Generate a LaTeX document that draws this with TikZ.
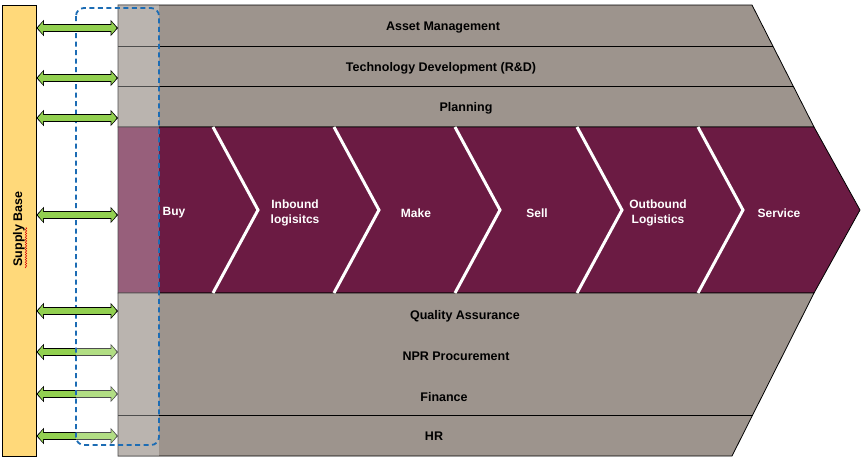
\documentclass[tikz,border=0pt]{standalone}
\usepackage{fontspec}
\setmainfont{Liberation Sans}
\usetikzlibrary{arrows.meta,positioning,decorations.pathmorphing}

\definecolor{bandgray}{RGB}{157,148,141}
\definecolor{wine}{RGB}{107,27,67}
\definecolor{supplyyellow}{RGB}{255,217,122}
\definecolor{linkgreen}{RGB}{146,208,80}
\definecolor{frameblue}{RGB}{28,108,180}

\begin{document}
\begin{tikzpicture}[x=1pt, y=-1pt, node distance=121pt,
    band/.style={font=\bfseries\fontsize{12.5}{14}\selectfont, text=black},
    stage/.style={font=\bfseries\fontsize{12}{15}\selectfont, text=white, align=center},
    chev/.style={white, line width=3pt, miter limit=20},
    linkout/.style={line width=8.4pt, black, {Triangle[width=16pt,length=7.5pt]}-{Triangle[width=16pt,length=7.5pt]}},
    linkin/.style={line width=6pt, linkgreen, shorten <=1.4pt, shorten >=1.4pt,
      {Triangle[width=12.5pt,length=5.2pt]}-{Triangle[width=12.5pt,length=5.2pt]}}]

    \useasboundingbox (0,0) rectangle (861,464);

    % support bands and the primary chain
    \draw[fill=bandgray, line width=0.8pt] (118,5) -- (752,5) -- (814,127) -- (118,127) -- cycle;
    \draw[fill=wine, line width=0.8pt] (118,127) -- (814,127) -- (860,210) -- (814,293) -- (118,293) -- cycle;
    \draw[fill=bandgray, line width=0.8pt] (118,293) -- (814,293) -- (732,456) -- (118,456) -- cycle;
    \draw[line width=0.8pt] (118,46) -- (772.8,46);
    \draw[line width=0.8pt] (118,86) -- (793.1,86);
    \draw[line width=0.8pt] (118,415) -- (752.6,415);

    \foreach \x in {213,334,455,577,698}
        \draw[chev] (\x,127) -- (\x+45,210) -- (\x,293);

    \node[band] (asset) at (443,27.5) {Asset Management};
    \node[band] (tech) at (441,68.5) {Technology Development (R\&D)};
    \node[band] (plan) at (466,108.5) {Planning};
    \node[band] (qa) at (465,316.5) {Quality Assurance};
    \node[band] (npr) at (456,356.5) {NPR Procurement};
    \node[band] (fin) at (444,397) {Finance};
    \node[band] (hr) at (434,436) {HR};

    \node[stage] (buy) at (174,213) {Buy};
    \node[stage, right of=buy] (inbound) {Inbound\\logisitcs};
    \node[stage, right of=inbound] (make) {Make};
    \node[stage, right of=make] (sell) {Sell};
    \node[stage, right of=sell] (outbound) {Outbound\\Logistics};
    \node[stage, right of=outbound] (service) {Service};

    % supply base
    \node[draw, fill=supplyyellow, line width=0.8pt, inner sep=0,
        minimum width=34pt, minimum height=451pt] (sb) at (19,230.5) {};
    \node[rotate=90, font=\bfseries\fontsize{12.5}{14}\selectfont] (sbtext) at (19,229) {Supply Base};
    \draw[red!85!black, line width=0.5pt, decorate, decoration={snake, amplitude=0.7pt, segment length=2.5pt}]
        (26,268) -- (26,227);

    \foreach \y [count=\i] in {28,78,118,215,311,352,394,436}
        \coordinate (p\i) at (118,\y);

    \foreach \i in {6,7,8} {
        \draw[linkout] (sb.east |- p\i) -- (p\i);
        \draw[linkin] (sb.east |- p\i) -- (p\i);
    }

    \fill[white, opacity=0.3] (76,5) rectangle (159,456);
    \draw[frameblue, line width=1.8pt, dash pattern=on 5pt off 3.5pt, rounded corners=8pt]
        (76,8) rectangle (159,445);

    \foreach \i in {1,...,5} {
        \draw[linkout] (sb.east |- p\i) -- (p\i);
        \draw[linkin] (sb.east |- p\i) -- (p\i);
    }
\end{tikzpicture}
\end{document}
